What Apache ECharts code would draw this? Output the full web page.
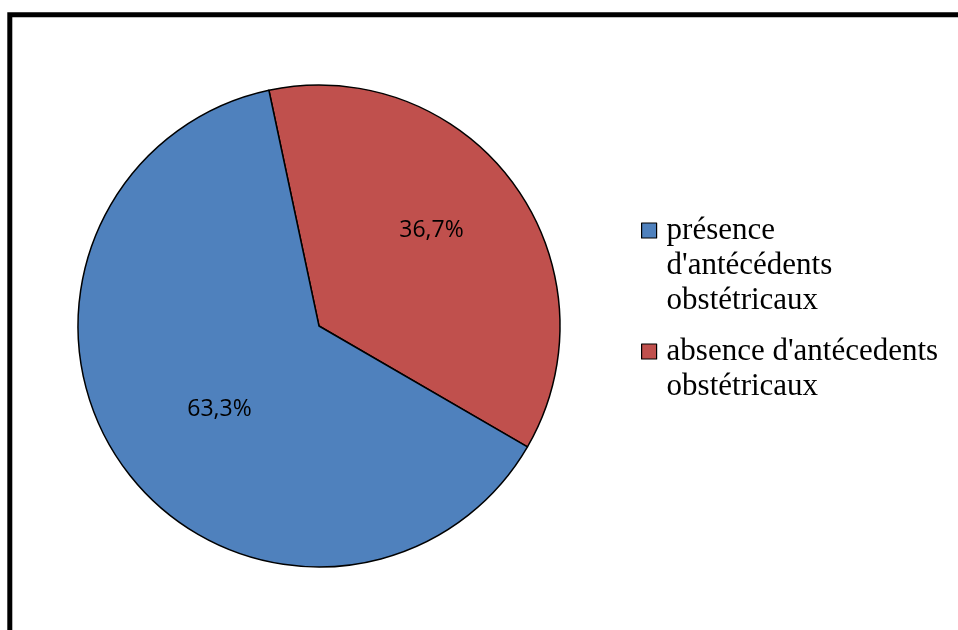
<!DOCTYPE html>
<html>
<head>
<meta charset="utf-8">
<script src="https://cdn.jsdelivr.net/npm/echarts@6/dist/echarts.min.js"></script>
<style>
  html, body { margin: 0; padding: 0; background: #fff; }
  #chart { width: 958px; height: 630px; }
</style>
</head>
<body>
<div id="chart"></div>
<script>
// données du graphique
var categories = ["absence d'antécedents obstétricaux", "présence d'antécédents obstétricaux"];
var values = [36.7, 63.3];
var colors = ['#C0504D', '#4F81BD'];
// libellés de la légende (retours à la ligne comme sur l'original)
var legendLines = ["absence d'antécedents\nobstétricaux", "présence\nd'antécédents\nobstétricaux"];

var myChart = echarts.init(document.getElementById('chart'));

// le texte est centré sur le carré : on ajoute des lignes vides au-dessus
// pour que le carré tombe sur la première ligne
function legendText(name) {
    var lines = legendLines[categories.indexOf(name)].split('\n');
    var pad = [];
    for (var i = 1; i < lines.length; i++) pad.push('');
    return pad.concat(lines).join('\n');
}

var legendBase = {
    orient: 'vertical',
    left: 641,
    padding: 0,
    icon: 'rect',
    itemWidth: 15,
    itemHeight: 15,
    itemStyle: { borderColor: '#000', borderWidth: 1.2 },
    textStyle: { fontFamily: 'Liberation Serif', fontSize: 31, lineHeight: 35, color: '#000', padding: [0, 0, 0, 5] },
    formatter: legendText,
    selectedMode: false
};

var option = {
    animation: false,
    backgroundColor: '#fff',
    graphic: [{
        type: 'rect',
        shape: { x: 9.8, y: 14.7, width: 2000, height: 2000 },
        style: { fill: 'none', stroke: '#000', lineWidth: 5 },
        silent: true
    }],
    legend: [
        Object.assign({}, legendBase, { top: 143, data: [categories[1]] }),
        Object.assign({}, legendBase, { top: 299, data: [categories[0]] })
    ],
    series: [{
        type: 'pie',
        center: [319, 326],
        radius: 241,
        startAngle: 102,
        clockwise: true,
        silent: true,
        itemStyle: { borderColor: '#000', borderWidth: 1.5 },
        label: {
            show: true,
            position: 'inside',
            fontFamily: 'Open Sans',
            fontSize: 23,
            color: '#000',
            formatter: function (p) { return p.value.toFixed(1).replace('.', ',') + '%'; }
        },
        labelLine: { show: false },
        labelLayout: function (p) {
            // léger décalage des étiquettes comme dans Excel
            return p.dataIndex === 0 ? { dx: 12.5, dy: -23 } : { dx: 0.5, dy: 10.5 };
        },
        data: categories.map(function (c, i) {
            return { name: c, value: values[i], itemStyle: { color: colors[i] } };
        })
    }]
};

myChart.setOption(option);
</script>
</body>
</html>
